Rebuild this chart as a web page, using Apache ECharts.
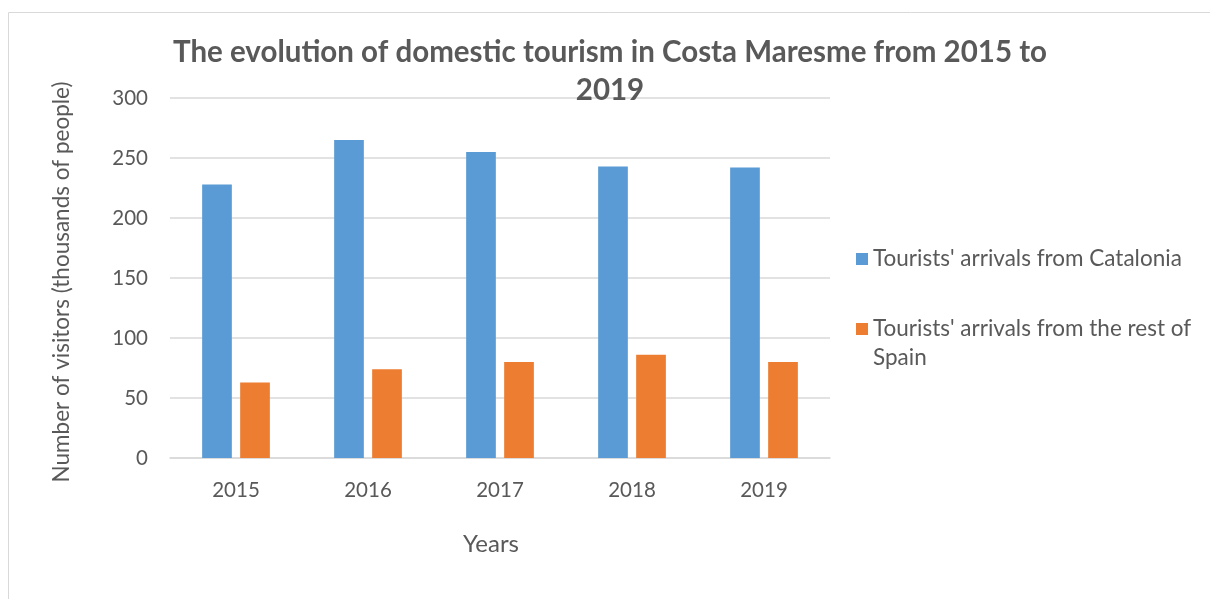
<!DOCTYPE html>
<html>
<head>
<meta charset="utf-8">
<script src="https://cdn.jsdelivr.net/npm/echarts@6/dist/echarts.min.js"></script>
<style>
  html, body { margin: 0; padding: 0; background: #fff; }
  #chart { width: 1210px; height: 599px; }
</style>
</head>
<body>
<div id="chart"></div>
<script>
// Domestic tourism in Costa Maresme, thousands of visitors per year
const years = ['2015', '2016', '2017', '2018', '2019'];
const catalonia = [228, 265, 255, 243, 242];
const restOfSpain = [63, 74, 80, 86, 80];
const seriesNames = ["Tourists' arrivals from Catalonia", "Tourists' arrivals from the rest of Spain"];
const yTicks = { min: 0, max: 300, interval: 50 };

const FONT = 'Lato, "Open Sans", sans-serif';
const TEXT = '#595959';
const GRID = '#d9d9d9';

const chart = echarts.init(document.getElementById('chart'), null, { renderer: 'canvas' });

chart.setOption({
  animation: false,
  backgroundColor: '#fff',
  textStyle: { fontFamily: FONT },
  title: {
    text: 'The evolution of domestic tourism in Costa Maresme from 2015 to\n2019',
    left: 605,
    top: 28,
    textAlign: 'center',
    textStyle: { fontFamily: FONT, fontSize: 29.5, fontWeight: 'bold', color: TEXT, lineHeight: 38 }
  },
  graphic: [{
    type: 'rect',
    silent: true,
    shape: { x: 8.5, y: 12.5, width: 1400, height: 800 },
    style: { fill: 'none', stroke: GRID, lineWidth: 1 }
  }],
  legend: [{
    data: [seriesNames[0]],
    left: 851,
    top: 239.5,
    itemWidth: 12,
    itemHeight: 12,
    icon: 'rect',
    selectedMode: false,
    textStyle: { fontFamily: FONT, fontSize: 22.5, color: TEXT, lineHeight: 29 }
  }, {
    // leading blank line keeps the swatch level with the first text line
    data: [seriesNames[1]],
    left: 851,
    top: 280.5,
    itemWidth: 12,
    itemHeight: 12,
    icon: 'rect',
    selectedMode: false,
    formatter: name => '\n' + name.replace(' of ', ' of\n'),
    textStyle: { fontFamily: FONT, fontSize: 22.5, color: TEXT, lineHeight: 29 }
  }],
  grid: { left: 170, right: 380, top: 98, bottom: 141, containLabel: false },
  xAxis: {
    type: 'category',
    data: years,
    name: 'Years',
    nameLocation: 'middle',
    nameGap: 74,
    nameTextStyle: { fontFamily: FONT, fontSize: 24, color: TEXT, padding: [0, 18, 0, 0] },
    axisLine: { lineStyle: { color: GRID, width: 1.5 } },
    axisTick: { show: false },
    axisLabel: { fontFamily: FONT, fontSize: 20.5, color: TEXT, margin: 22 }
  },
  yAxis: {
    type: 'value',
    min: yTicks.min,
    max: yTicks.max,
    interval: yTicks.interval,
    name: 'Number of visitors (thousands of people)',
    nameLocation: 'middle',
    nameGap: 97,
    nameRotate: 90,
    nameTextStyle: { fontFamily: FONT, fontSize: 22.5, color: TEXT, padding: [0, 8, 0, 0] },
    axisLine: { show: false },
    axisTick: { show: false },
    axisLabel: { fontFamily: FONT, fontSize: 20.5, color: TEXT, margin: 22 },
    splitLine: { lineStyle: { color: GRID, width: 1.5 } }
  },
  series: [{
    name: seriesNames[0],
    type: 'bar',
    data: catalonia,
    itemStyle: { color: '#5B9BD5' },
    barGap: '28%',
    barCategoryGap: '48.7%'
  }, {
    name: seriesNames[1],
    type: 'bar',
    data: restOfSpain,
    itemStyle: { color: '#ED7D31' }
  }]
});
</script>
</body>
</html>
